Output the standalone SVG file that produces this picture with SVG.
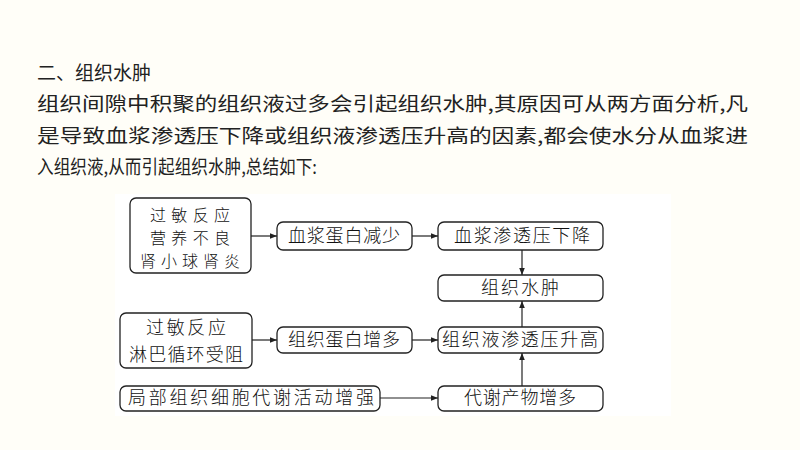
<svg xmlns="http://www.w3.org/2000/svg" width="800" height="450" viewBox="0 0 800 450">
<defs>
<marker id="ah" viewBox="0 0 10 10" refX="10" refY="5" markerWidth="7" markerHeight="7" orient="auto" markerUnits="userSpaceOnUse"><path d="M0,1 L10,5 L0,9 Z" fill="#222"/></marker>
</defs>
<style>
.t{font-family:"Noto Sans CJK SC","Noto Sans",sans-serif;fill:#222;}
.p{font-size:19px;}
.b rect{fill:#fff;stroke:#222;stroke-width:1.3;}
.b text{font-family:"Noto Sans CJK SC",sans-serif;font-size:18px;fill:#111;text-anchor:middle;font-weight:300;}
.b text.s{font-size:16px;}
#c line{stroke:#222;stroke-width:1.2;marker-end:url(#ah);}
</style>
<rect width="800" height="450" fill="#fffef8"/>
<text class="t" x="37" y="80" font-size="19">二、组织水肿</text>
<text class="t p" x="37" y="111" textLength="711" lengthAdjust="spacingAndGlyphs">组织间隙中积聚的组织液过多会引起组织水肿,其原因可从两方面分析,凡</text>
<text class="t p" x="37" y="143" textLength="711" lengthAdjust="spacingAndGlyphs">是导致血浆渗透压下降或组织液渗透压升高的因素,都会使水分从血浆进</text>
<text class="t p" x="37" y="174" textLength="280" lengthAdjust="spacingAndGlyphs">入组织液,从而引起组织水肿,总结如下:</text>
<rect x="115" y="194" width="556" height="222" fill="#fff"/>
<g id="n1" class="b"><rect x="130" y="198" width="121" height="75" rx="6"/><text class="s" x="190" y="221" textLength="80">过敏反应</text><text class="s" x="190" y="244" textLength="80">营养不良</text><text class="s" x="190" y="267" textLength="100">肾小球肾炎</text></g>
<g id="n2" class="b"><rect x="277" y="222" width="135" height="28" rx="6"/><text x="344" y="242" textLength="112">血浆蛋白减少</text></g>
<g id="n3" class="b"><rect x="438" y="222" width="165" height="28" rx="6"/><text x="522" y="242" textLength="136">血浆渗透压下降</text></g>
<g id="n4" class="b"><rect x="438" y="275" width="165" height="26" rx="6"/><text x="520" y="294" textLength="78">组织水肿</text></g>
<g id="n5" class="b"><rect x="120" y="313" width="132" height="55" rx="6"/><text x="186" y="334" textLength="80">过敏反应</text><text x="186" y="361" textLength="114">淋巴循环受阻</text></g>
<g id="n6" class="b"><rect x="277" y="327" width="135" height="26" rx="6"/><text x="344" y="346" textLength="112">组织蛋白增多</text></g>
<g id="n7" class="b"><rect x="438" y="327" width="165" height="26" rx="6"/><text x="520" y="346" textLength="156">组织液渗透压升高</text></g>
<g id="n8" class="b"><rect x="120" y="386" width="260" height="25" rx="6"/><text x="251" y="404" textLength="246">局部组织细胞代谢活动增强</text></g>
<g id="n9" class="b"><rect x="438" y="386" width="165" height="25" rx="6"/><text x="520" y="404" textLength="112">代谢产物增多</text></g>
<g id="c">
<line x1="251" y1="236" x2="277" y2="236"/>
<line x1="412" y1="236" x2="438" y2="236"/>
<line x1="522" y1="250" x2="522" y2="275"/>
<line x1="522" y1="327" x2="522" y2="301"/>
<line x1="522" y1="386" x2="522" y2="353"/>
<line x1="252" y1="340" x2="277" y2="340"/>
<line x1="412" y1="340" x2="438" y2="340"/>
<line x1="380" y1="398" x2="438" y2="398"/>
</g>
</svg>
